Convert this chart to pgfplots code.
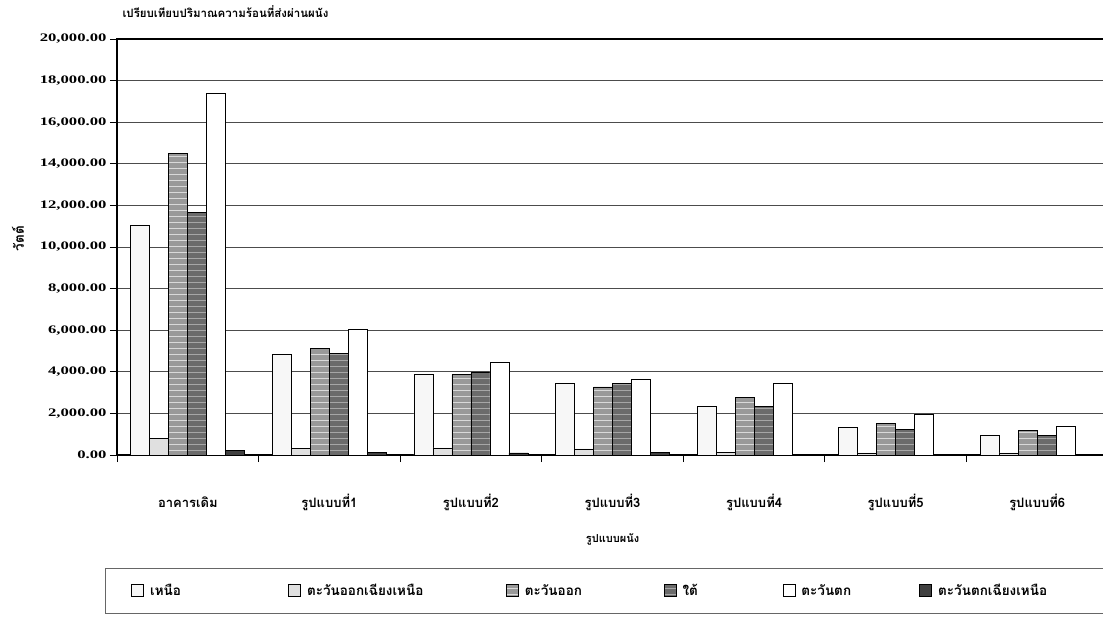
\documentclass[border=0pt]{standalone}
\usepackage{fontspec}
\usepackage{pgfplots}
\usepackage{pgfplotstable}
\pgfplotsset{compat=1.18}
\usetikzlibrary{patterns.meta}
\setmainfont{Liberation Serif}
\newfontfamily\thai[Script=Thai]{Loma}
\newfontfamily\numf[FakeStretch=1.45]{Liberation Serif}

\pgfplotstableread{
x N NE E S W NW
0 11050 810 14500 11650 17400 200
1 4840 330 5110 4870 6030 120
2 3880 340 3860 3960 4430 100
3 3450 290 3270 3450 3640 110
4 2330 130 2770 2330 3450 40
5 1310 100 1510 1230 1950 20
6 960 100 1170 960 1390 20
}\data

\begin{document}
\begin{tikzpicture}[x=1pt,y=1pt]
\useasboundingbox (0,0) rectangle (1103,-618);
\begin{axis}[
  at={(117pt,-455pt)}, anchor=south west,
  scale only axis, width=991pt, height=416pt,
  ybar=0pt, bar width=19pt,
  xmin=-0.5, xmax=6.5, ymin=0, ymax=20000,
  axis line style={line width=1.4pt, black},
  ytick={0,2000,...,20000},
  scaled y ticks=false,
  ymajorgrids, grid style={line width=0.8pt, black!70},
  xtick={0,...,6},
  xticklabels={อาคารเดิม, รูปแบบที่1, รูปแบบที่2, รูปแบบที่3, รูปแบบที่4, รูปแบบที่5, รูปแบบที่6},
  minor xtick={-0.5,0.5,...,6.5},
  tick pos=left,
  tick align=outside,
  major tick length=7pt, minor tick length=7pt,
  major x tick style={draw=none},
  minor x tick style={line width=0.8pt, black},
  y tick style={line width=0.8pt, black},
  x tick label style={font=\thai\bfseries\fontsize{13}{15}\selectfont, anchor=center, yshift=-40pt},
  y tick label style={font=\numf\bfseries\fontsize{11.5}{13}\selectfont},
  /pgf/number format/fixed, /pgf/number format/fixed zerofill,
  /pgf/number format/precision=2, /pgf/number format/1000 sep={,},
  /pgf/number format/assume math mode=true,
  title={เปรียบเทียบปริมาณความร้อนที่ส่งผ่านผนัง},
  title style={font=\thai\bfseries\fontsize{11.5}{13}\selectfont, at={(0,1)}, anchor=south west, yshift=12pt, xshift=2pt},
  ylabel={วัตต์},
  ylabel style={font=\thai\bfseries\fontsize{13.5}{15}\selectfont, at={(axis description cs:-0.1,0.52)}, anchor=center},
  xlabel={รูปแบบผนัง},
  xlabel style={font=\thai\bfseries\fontsize{11}{13}\selectfont, at={(axis description cs:0.5,-0.204)}, anchor=center},
  legend columns=6,
  legend style={at={(axis description cs:-0.0121,-0.2716)}, anchor=north west,
    draw=black!60, line width=0.8pt, inner xsep=26pt, inner ysep=14pt,
    font=\thai\bfseries\fontsize{13.5}{15}\selectfont},
  legend image code/.code={\draw[#1, line width=0.8pt] (0pt,-6pt) rectangle (12pt,6pt);},
]
\addplot[draw=black, line width=0.8pt, fill=black!3] table[x=x,y=N]{\data};
\addlegendentry{\makebox[140pt][l]{\hspace{4pt}เหนือ}}
\addplot[draw=black, line width=0.8pt, fill=black!12] table[x=x,y=NE]{\data};
\addlegendentry{\makebox[201pt][l]{\hspace{4pt}ตะวันออกเฉียงเหนือ}}
\addplot[draw=black, line width=0.8pt, fill=black!40, postaction={pattern={Lines[angle=0,distance=6pt,line width=0.8pt]}, pattern color=black!15}] table[x=x,y=E]{\data};
\addlegendentry{\makebox[141pt][l]{\hspace{4pt}ตะวันออก}}
\addplot[draw=black, line width=0.8pt, fill=black!58, postaction={pattern={Lines[angle=0,distance=6pt,line width=0.8pt]}, pattern color=black!35}] table[x=x,y=S]{\data};
\addlegendentry{\makebox[102pt][l]{\hspace{4pt}ใต้}}
\addplot[draw=black, line width=0.8pt, fill=white] table[x=x,y=W]{\data};
\addlegendentry{\makebox[120pt][l]{\hspace{4pt}ตะวันตก}}
\addplot[draw=black, line width=0.8pt, fill=black!75] table[x=x,y=NW]{\data};
\addlegendentry{\makebox[144pt][l]{\hspace{4pt}ตะวันตกเฉียงเหนือ}}
\end{axis}
\end{tikzpicture}
\end{document}
